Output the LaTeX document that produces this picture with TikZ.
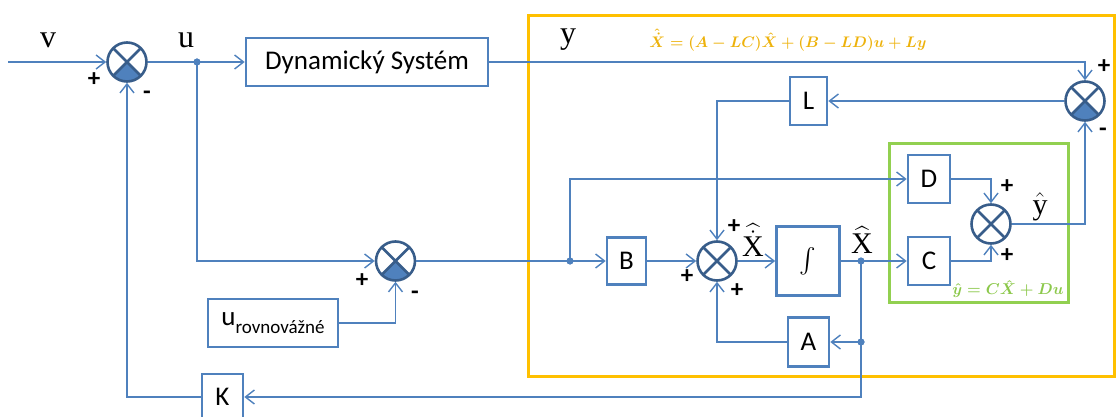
\documentclass[tikz,border=0pt]{standalone}
\usepackage{fix-cm}
\usepackage{exscale}
\usepackage{fontspec}
\setmainfont{Liberation Serif}
\newfontfamily\carlito{Carlito}
\usetikzlibrary{arrows.meta,calc}
\definecolor{boxc}{HTML}{4F81BD}
\definecolor{sumc}{HTML}{385D8A}
\definecolor{yel}{HTML}{FFC000}
\definecolor{yeltxt}{HTML}{EDB20C}
\definecolor{grn}{HTML}{92D050}
\definecolor{grntxt}{HTML}{8CC84B}
\begin{document}
\begin{tikzpicture}[x=1pt,y=-1pt,
  conn/.style={draw=boxc, line width=1.4pt, -{Straight Barb[length=9pt,width=14pt]}},
  wire/.style={draw=boxc, line width=1.4pt},
  blk/.style={draw=boxc, line width=2.6pt, fill=white, inner sep=0pt, font=\carlito\fontsize{27}{30}\selectfont},
  sumbase/.style={circle, draw=sumc, line width=2.6pt, minimum size=39pt, inner sep=0pt, fill=white},
  sumx/.style={sumbase, path picture={
     \draw[sumc,line width=2.6pt] (path picture bounding box.center) +(45:24pt) -- +(225:24pt)
       (path picture bounding box.center) +(135:24pt) -- +(315:24pt);}},
  sumf/.style={sumbase, path picture={
     \fill[boxc] (path picture bounding box.center) -- +(225:24pt) arc[start angle=225,end angle=315,radius=24pt] -- cycle;
     \draw[sumc,line width=2.6pt] (path picture bounding box.center) +(45:24pt) -- +(225:24pt)
       (path picture bounding box.center) +(135:24pt) -- +(315:24pt);}},
  sgn/.style={font=\carlito\bfseries\fontsize{25}{25}\selectfont, inner sep=0pt},
  lbl/.style={font=\fontsize{32}{32}\selectfont, inner sep=0pt},
  hatl/.style={font=\fontsize{30}{30}\selectfont, inner sep=0pt},
  dotn/.style={circle, fill=boxc, inner sep=0pt, minimum size=7pt}
]
\useasboundingbox (0,0) rectangle (1117,417);
% frames
\node[draw=yel, line width=3pt, minimum width=586pt, minimum height=360pt, inner sep=0pt] (obs) at (821,196) {};
\node[draw=grn, line width=3pt, minimum width=179pt, minimum height=158pt, inner sep=0pt] (outb) at (978.5,223) {};
% equations
\node[text=yeltxt, inner sep=0pt, font=\fontsize{15.3}{16}\selectfont\boldmath] (eq1) at (788,40) {$\hat{\dot{X}}=(A-LC)\hat{X}+(B-LD)u+Ly$};
\node[text=grntxt, inner sep=0pt, font=\fontsize{15.7}{16}\selectfont\boldmath] (eq2) at (1008,289) {$\hat{y}=C\hat{X}+Du$};
% summing junctions
\node[sumf] (S1) at (127,62) {};
\node[sumf] (S4) at (1085,101) {};
\node[sumf] (S5) at (395.5,261) {};
\node[sumx] (S2) at (717,261) {};
\node[sumx] (S3) at (991,224) {};
% blocks
\node[blk, minimum width=242pt, minimum height=48pt] (Dyn) at (367,62) {Dynamický Systém};
\node[blk, minimum width=37pt, minimum height=48pt] (L) at (808.5,101) {L};
\node[blk, minimum width=39pt, minimum height=47pt] (B) at (626.5,261) {B};
\node[blk, minimum width=63pt, minimum height=69pt, font=\fontsize{34}{34}\selectfont] (I) at (808,261) {$\int$};
\node[blk, minimum width=42pt, minimum height=48pt] (D) at (929,179) {D};
\node[blk, minimum width=42pt, minimum height=48pt] (C) at (929,261) {C};
\node[blk, minimum width=41pt, minimum height=49pt] (A) at (808.5,342) {A};
\node[blk, minimum width=41pt, minimum height=46pt] (K) at (222.5,397) {K};
\node[blk, minimum width=130pt, minimum height=48pt] (U) at (273,323) {u\raisebox{-0.32em}{\fontsize{19}{20}\selectfont rovnovážné}};
% dots
\node[dotn] (dU) at (197,62) {};
\node[dotn] (dB) at (570,261) {};
\node[dotn] (dX) at (861,261) {};
\node[dotn] (dA) at (861,342) {};
\coordinate (in) at (8,62);
\coordinate (kc) at (861,397);
% connectors
\draw[conn] (in) -- (S1.west);
\draw[conn] (S1.east) -- (dU.center) -- (Dyn.west);
\draw[conn] (Dyn.east) -- (S4.north |- Dyn.east) -- (S4.north);
\draw[conn] (S4.west) -- (L.east);
\draw[conn] (L.west) -- (S2.north |- L.west) -- (S2.north);
\draw[conn] (dU.center) -- (dU.center |- S5.west) -- (S5.west);
\draw[conn] (U.east) -- (S5.south |- U.east) -- (S5.south);
\draw[conn] (S5.east) -- (dB.center) -- (B.west);
\draw[conn] (dB.center) -- (dB.center |- D.west) -- (D.west);
\draw[conn] (B.east) -- (S2.west);
\draw[conn] (S2.east) -- (I.west);
\draw[conn] (I.east) -- (dX.center) -- (C.west);
\draw[conn] (D.east) -- (S3.north |- D.east) -- (S3.north);
\draw[conn] (C.east) -- (S3.south |- C.east) -- (S3.south);
\draw[conn] (S3.east) -- (S4.south |- S3.east) -- (S4.south);
\draw[conn] (dX.center) -- (dA.center) -- (A.east);
\draw[conn] (A.west) -- (S2.south |- A.west) -- (S2.south);
\draw[conn] (dA.center) -- (kc) -- (K.east);
\draw[conn] (K.west) -- (S1.south |- K.west) -- (S1.south);
% redraw dots on top
\fill[boxc] (dU) circle (3.5pt) (dB) circle (3.5pt) (dX) circle (3.5pt) (dA) circle (3.5pt);
% signal labels
\node[lbl] (lv) at (48,40) {v};
\node[lbl] (lu) at (186,40) {u};
\node[lbl] (ly) at (568,40) {y};
\node[hatl] (lxd) at (753,240) {$\widehat{\dot{\mathrm{X}}}$};
\node[hatl] (lx) at (862,240) {$\widehat{\mathrm{X}}$};
\node[hatl] (lyh) at (1040,207) {$\hat{\mathrm{y}}$};
% signs
\node[sgn] (p1) at (94,80) {+};
\node[sgn] (m1) at (147,95) {-};
\node[sgn] (p5) at (362,281) {+};
\node[sgn] (m5) at (415,295) {-};
\node[sgn] (p2a) at (734,227) {+};
\node[sgn] (p2b) at (687,277) {+};
\node[sgn] (p2c) at (737,291) {+};
\node[sgn] (p3a) at (1007,187) {+};
\node[sgn] (p3b) at (1007,256) {+};
\node[sgn] (p4) at (1104,67) {+};
\node[sgn] (m4) at (1103,132) {-};
\end{tikzpicture}
\end{document}
